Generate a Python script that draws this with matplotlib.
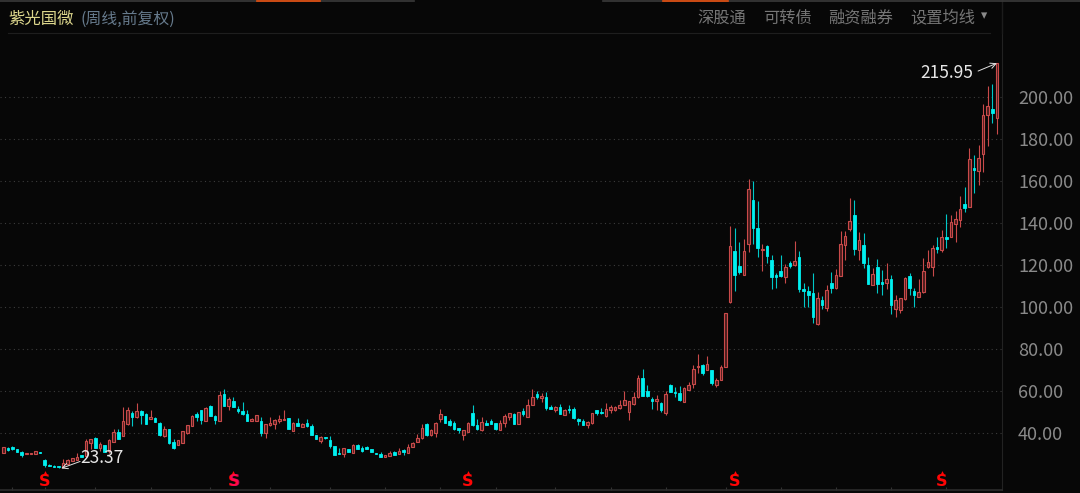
import matplotlib
matplotlib.use('Agg')
import matplotlib.pyplot as plt
import numpy as np

plt.rcParams['font.family'] = ['Noto Sans CJK SC', 'DejaVu Sans']

# weekly candles: R = up, C = down
colors = ("RCCCCRRRCC" "CCCRRRRCRR" "CRCRRCRRCR" "CCRCCRCCRR" "RRCCRCCRCR"
          "CCCCRRCRRR" "RRCRCRCCCR" "CCCCRCRCCC" "CCCRRCRCRR" "RRCRRRCCCC"
          "RRCCRCCCRR" "RCRCRRCRCC" "RCRCCCCRRC" "CRRRRRRRRC" "CCRCRCCCRR"
          "RRCRCRRRRC" "CRRCCRCCCC" "RCRCCCCRCR" "CRRRRCRCCR" "CCRCRRRCCR"
          "RRRCRCRRRC" "RCRRRCR")
tops = [33.1,32.8,33.0,32.2,30.7,30.4,30.4,31.2,31.0,27.2,
        24.8,24.3,24.2,25.6,27.2,28.0,28.5,29.3,36.0,36.8,
        37.6,34.4,34.1,36.3,40.5,40.5,45.6,50.9,49.6,50.5,
        50.4,49.1,47.7,47.2,44.8,41.6,41.6,35.7,36.3,40.8,
        43.5,48.0,49.1,50.9,51.7,52.5,48.0,57.9,58.4,56.0,
        55.2,51.2,50.4,48.8,46.4,48.3,45.6,44.0,44.5,45.9,
        46.4,46.7,46.9,44.8,44.5,44.3,44.8,43.2,38.7,38.0,
        38.0,36.3,33.6,30.4,32.8,32.3,34.1,33.9,32.8,33.1,
        32.3,30.4,29.9,29.4,30.4,30.6,31.2,31.8,33.3,34.9,
        37.6,42.4,44.3,41.3,44.8,49.1,48.0,45.6,44.8,42.1,
        41.3,44.8,49.6,43.5,45.3,44.8,45.6,44.5,44.8,48.0,
        49.3,48.8,49.8,50.3,53.0,57.1,58.3,57.5,57.0,52.2,
        52.2,52.0,51.0,51.4,51.1,46.7,45.6,45.1,49.5,50.6,
        49.7,51.4,52.0,52.2,53.3,55.7,54.9,57.0,65.9,65.9,
        59.7,56.0,55.9,54.0,58.6,62.9,59.5,58.7,61.1,62.5,
        70.2,71.9,72.0,72.7,69.8,65.0,71.4,96.8,128.9,126.7,
        119.4,126.7,156.0,150.8,137.3,127.6,128.9,122.2,115.1,117.0,
        118.7,120.8,121.7,123.5,108.4,107.5,106.3,104.0,103.3,107.9,
        111.1,114.9,129.7,133.7,140.8,143.7,131.7,129.4,119.8,115.6,
        118.7,111.9,113.0,113.2,103.2,104.0,113.5,114.8,107.6,107.1,
        117.0,121.3,127.8,128.6,133.0,133.2,140.2,141.9,146.7,148.9,
        170.3,165.9,170.6,191.1,195.7,194.1,215.9]
bottoms = [30.4,31.8,32.0,30.7,29.4,29.8,29.8,29.8,30.4,24.8,
           24.2,23.7,23.5,23.6,25.3,26.7,27.2,28.3,28.8,35.2,
           32.8,32.8,30.9,31.2,35.7,37.1,38.4,44.0,47.7,47.7,
           48.5,44.3,46.7,45.3,38.7,38.4,35.2,32.8,34.1,35.2,
           39.7,43.2,47.7,46.0,45.6,48.0,46.0,45.6,52.8,52.8,
           52.3,50.4,48.8,45.6,45.6,45.6,39.7,39.7,43.8,44.0,
           45.6,46.1,41.9,40.8,43.2,42.7,43.0,38.9,37.0,35.8,
           37.3,33.6,29.6,30.0,30.0,30.7,30.2,32.3,31.5,32.2,
           30.7,29.8,28.6,28.3,29.0,29.4,29.9,30.6,30.2,33.1,
           35.5,37.3,38.7,38.7,39.7,46.4,44.5,43.5,41.6,41.3,
           38.9,40.5,43.5,41.6,41.1,43.8,44.0,41.6,41.3,44.5,
           47.5,44.3,44.3,48.7,47.6,53.2,57.1,56.7,51.9,51.3,
           50.6,48.9,48.4,50.6,47.1,45.7,43.7,43.5,44.4,49.5,
           49.4,47.9,50.6,50.6,51.6,53.2,50.0,53.8,57.1,57.5,
           57.3,55.0,55.2,51.0,49.2,59.4,59.0,55.4,54.8,60.5,
           63.0,71.3,68.6,69.8,63.8,62.9,65.0,71.3,102.4,114.9,
           116.7,115.2,129.8,137.6,128.1,126.8,124.1,114.3,114.3,114.8,
           114.3,119.4,119.8,108.6,107.3,105.6,94.9,91.6,100.6,99.5,
           109.0,108.7,114.6,129.4,136.8,127.5,127.0,120.6,110.8,110.3,
           110.6,110.6,111.4,101.0,99.0,98.4,103.5,109.0,105.6,104.8,
           106.8,118.7,119.0,127.3,127.0,132.4,133.3,139.2,141.3,147.1,
           147.6,165.1,164.8,172.5,191.1,192.2,189.7]
highs = [33.3,33.0,33.5,32.3,31.2,30.5,30.5,31.4,31.0,27.3,
         25.0,24.4,24.3,27.5,27.7,28.1,30.1,29.4,36.8,37.0,
         37.8,35.5,34.2,36.8,41.6,41.9,52.0,52.0,50.4,54.1,
         50.9,49.6,50.7,47.3,45.0,43.2,41.8,36.8,36.5,41.0,
         43.8,48.6,49.9,51.0,52.0,53.0,48.2,60.0,60.8,56.8,
         56.8,52.8,54.4,50.9,46.9,48.5,47.7,44.2,47.7,46.7,
         48.3,50.7,47.0,45.0,46.9,44.4,46.4,44.3,38.8,38.4,
         38.1,38.4,33.7,32.5,32.9,32.4,34.4,34.4,33.6,33.6,
         32.4,30.5,30.6,29.5,31.5,31.2,32.8,32.3,34.4,35.5,
         39.2,44.3,44.8,41.9,45.0,51.2,48.1,46.4,45.6,42.2,
         41.4,45.0,53.1,46.4,47.5,45.8,46.4,44.6,45.8,49.1,
         49.4,49.6,50.0,51.6,55.9,61.0,59.7,59.0,59.5,53.0,
         52.7,53.7,51.1,53.0,52.4,46.8,46.3,45.6,49.6,51.0,
         51.6,54.0,53.0,52.9,55.6,59.8,55.2,59.4,67.3,70.2,
         62.5,57.0,57.8,54.6,60.0,63.0,61.6,62.0,61.9,64.1,
         72.4,77.6,72.9,76.5,69.9,65.9,72.2,97.0,138.4,137.3,
         130.6,132.2,160.8,159.8,150.5,129.8,129.5,124.6,115.9,124.6,
         120.3,121.6,131.4,126.5,111.4,109.8,116.2,107.1,105.0,110.3,
         116.7,117.9,136.0,136.0,151.6,150.8,135.7,135.2,123.8,118.3,
         122.7,117.5,120.6,114.9,105.6,104.3,114.3,116.0,109.0,113.0,
         123.0,127.0,129.4,133.3,136.5,144.1,143.7,145.6,152.7,156.8,
         175.4,172.2,177.0,196.5,205.2,205.9,215.95]
lows = [30.2,31.5,31.8,30.6,28.3,29.7,29.7,29.7,30.4,23.5,
        24.1,23.6,23.37,23.4,24.8,26.6,27.0,28.2,28.5,32.0,
        32.5,31.2,30.7,30.4,35.5,36.8,38.2,43.8,43.2,47.0,
        44.3,44.0,46.4,45.2,38.5,38.1,34.4,32.3,34.0,35.0,
        39.5,43.0,45.6,44.0,45.4,47.8,44.0,45.4,52.6,50.9,
        52.1,49.6,48.6,45.4,45.5,45.4,38.4,37.3,43.2,41.6,
        44.8,46.0,41.8,40.6,43.1,42.6,42.9,38.8,36.9,34.9,
        37.2,32.5,29.5,29.9,28.3,30.6,30.1,32.2,30.7,32.1,
        30.6,29.7,28.5,28.2,28.9,29.3,29.8,29.3,30.1,33.0,
        35.4,37.2,38.6,38.5,37.9,45.1,44.4,43.4,41.5,40.0,
        36.3,40.4,43.4,41.5,41.0,43.7,43.9,41.5,41.2,42.7,
        46.1,44.2,44.2,47.9,47.5,53.0,55.9,54.6,50.8,51.2,
        49.8,48.8,48.3,49.5,46.7,43.5,43.6,42.2,44.3,48.4,
        49.0,47.6,49.5,50.3,51.5,53.1,46.0,53.0,56.6,57.4,
        57.2,51.1,50.8,49.8,48.6,59.3,57.0,55.3,54.7,60.4,
        61.4,68.3,67.6,69.7,62.5,61.7,64.9,71.2,101.6,107.6,
        115.6,115.0,125.9,129.8,123.8,117.1,121.0,108.3,109.0,114.3,
        111.4,118.3,119.6,106.8,100.0,100.0,92.4,91.4,98.9,98.1,
        106.3,108.3,114.4,122.2,136.0,124.6,122.2,118.3,110.6,110.1,
        106.3,105.6,108.3,96.5,94.9,97.0,103.3,105.6,99.7,104.6,
        106.6,118.3,114.6,125.7,126.0,127.8,133.1,130.6,138.1,144.9,
        147.4,154.0,157.9,164.3,176.7,187.6,182.0]

y_ticks = [40, 60, 80, 100, 120, 140, 160, 180, 200]
x_ticks = [2, 9, 20, 32, 45, 58, 71, 83, 95, 107, 120, 132, 144, 157, 169, 181, 193, 205]
s_marks = [9, 50, 101, 159, 204]
title = '紫光国微'
subtitle = '(周线,前复权)'
menu = ['深股通', '可转债', '融资融券', '设置均线']
menu_x = [697, 763, 828, 910]

BG = '#070707'
RED = '#c94a4a'
RED_FILL = '#4a1c1c'
CYAN = '#00f0f0'

fig = plt.figure(figsize=(10.8, 4.93), dpi=100, facecolor=BG)
ax = fig.add_axes([0, 3 / 493, 1002 / 1080, 458 / 493], facecolor=BG)

x = np.arange(len(colors))
is_up = np.array([c == 'R' for c in colors])
tops = np.array(tops)
bottoms = np.array(bottoms)
highs = np.array(highs)
lows = np.array(lows)

# wicks first, the red bodies cover them
ax.vlines(x[is_up], lows[is_up], highs[is_up], color=RED, lw=0.8, zorder=3)
ax.vlines(x[~is_up], lows[~is_up], highs[~is_up], color='#00c8c8', lw=0.8, zorder=3)
ax.bar(x[is_up], tops[is_up] - bottoms[is_up], bottom=bottoms[is_up], width=0.58,
       facecolor=RED_FILL, edgecolor=RED, linewidth=0.8, zorder=4)
ax.bar(x[~is_up], tops[~is_up] - bottoms[~is_up], bottom=bottoms[~is_up], width=0.58,
       facecolor=CYAN, edgecolor=CYAN, linewidth=0.6, zorder=4)

ax.set_xlim(-0.717, 217.1)
ax.set_ylim(12.7, 230.8)
ax.yaxis.tick_right()
ax.set_yticks(y_ticks)
ax.set_yticklabels(['%.2f' % v for v in y_ticks])
ax.tick_params(axis='y', length=0, pad=11.5, labelsize=13, labelcolor='#8a8a8a')
ax.set_xticks(x_ticks)
ax.set_xticklabels([])
ax.tick_params(axis='x', direction='in', length=2, color='#333333')
ax.grid(axis='y', color='#3c3c3c', linestyle=(0, (1, 3)), linewidth=0.8)
ax.set_axisbelow(True)
for side in ['top', 'left']:
    ax.spines[side].set_visible(False)
ax.spines['right'].set_color('#222222')
ax.spines['bottom'].set_color('#2c2c2c')
ax.spines['bottom'].set_linewidth(1.2)

# high / low callouts
ax.annotate('', xy=(216, 215.95), xytext=(211.9, 212.2), zorder=6,
            arrowprops=dict(arrowstyle='->', color='#e0e0e0', lw=0.7, shrinkA=0, shrinkB=0))
ax.text(210.9, 211.3, '215.95', color='#e6e6e6', fontsize=12.5, ha='right', va='center', zorder=6)
ax.annotate('', xy=(12.6, 23.0), xytext=(16.7, 26.3), zorder=6,
            arrowprops=dict(arrowstyle='->', color='#e0e0e0', lw=0.7, shrinkA=0, shrinkB=0))
ax.text(16.8, 27.9, '23.37', color='#e6e6e6', fontsize=12.5, ha='left', va='center', zorder=6)

# red S signals along the bottom
for i in s_marks:
    ax.text(i, 16.8, 'S', color='#ff0505', fontsize=11.5, fontweight='bold',
            ha='center', va='center', family=['DejaVu Sans'])
    ax.plot([i], [21.0], marker='^', ms=3.5, color='#ff0505', mec='none', clip_on=False)
ax.text(50.2, 16.8, 'S', color='#ff0a70', fontsize=11.5, fontweight='bold', alpha=0.7,
        ha='center', va='center', family=['DejaVu Sans'])

# header, placed in figure pixels
def px(x0, y0):
    return x0 / 1080, 1 - y0 / 493

fig.text(*px(8, 19), title, color='#dcd68c', fontsize=11.8, ha='left', va='center')
fig.text(*px(80, 19), subtitle, color='#667a8c', fontsize=11.4, ha='left', va='center')
for label, mx in zip(menu, menu_x):
    fig.text(*px(mx, 18), label, color='#767676', fontsize=11.7, ha='left', va='center')
fig.text(*px(984, 16), '▾', color='#8a8a8a', fontsize=9, ha='center', va='center',
         family=['DejaVu Sans'])

fig.add_artist(plt.Line2D([8 / 1080, 990 / 1080], [1 - 32.5 / 493] * 2, color='#1e1e1e', lw=0.8))
fig.add_artist(plt.Line2D([1001.5 / 1080] * 2, [1 - 33 / 493, 1], color='#1c1c1c', lw=1.0))
for a, b in [(0, 414), (603, 1080)]:
    fig.add_artist(plt.Line2D([a / 1080, b / 1080], [1 - 0.7 / 493] * 2, color='#3a3a3a', lw=1.2))
for a, b in [(257, 320), (663, 728)]:
    fig.add_artist(plt.Line2D([a / 1080, b / 1080], [1 - 0.7 / 493] * 2, color='#e8500f', lw=1.2))

fig.savefig('out.png', dpi=100, facecolor=BG)
